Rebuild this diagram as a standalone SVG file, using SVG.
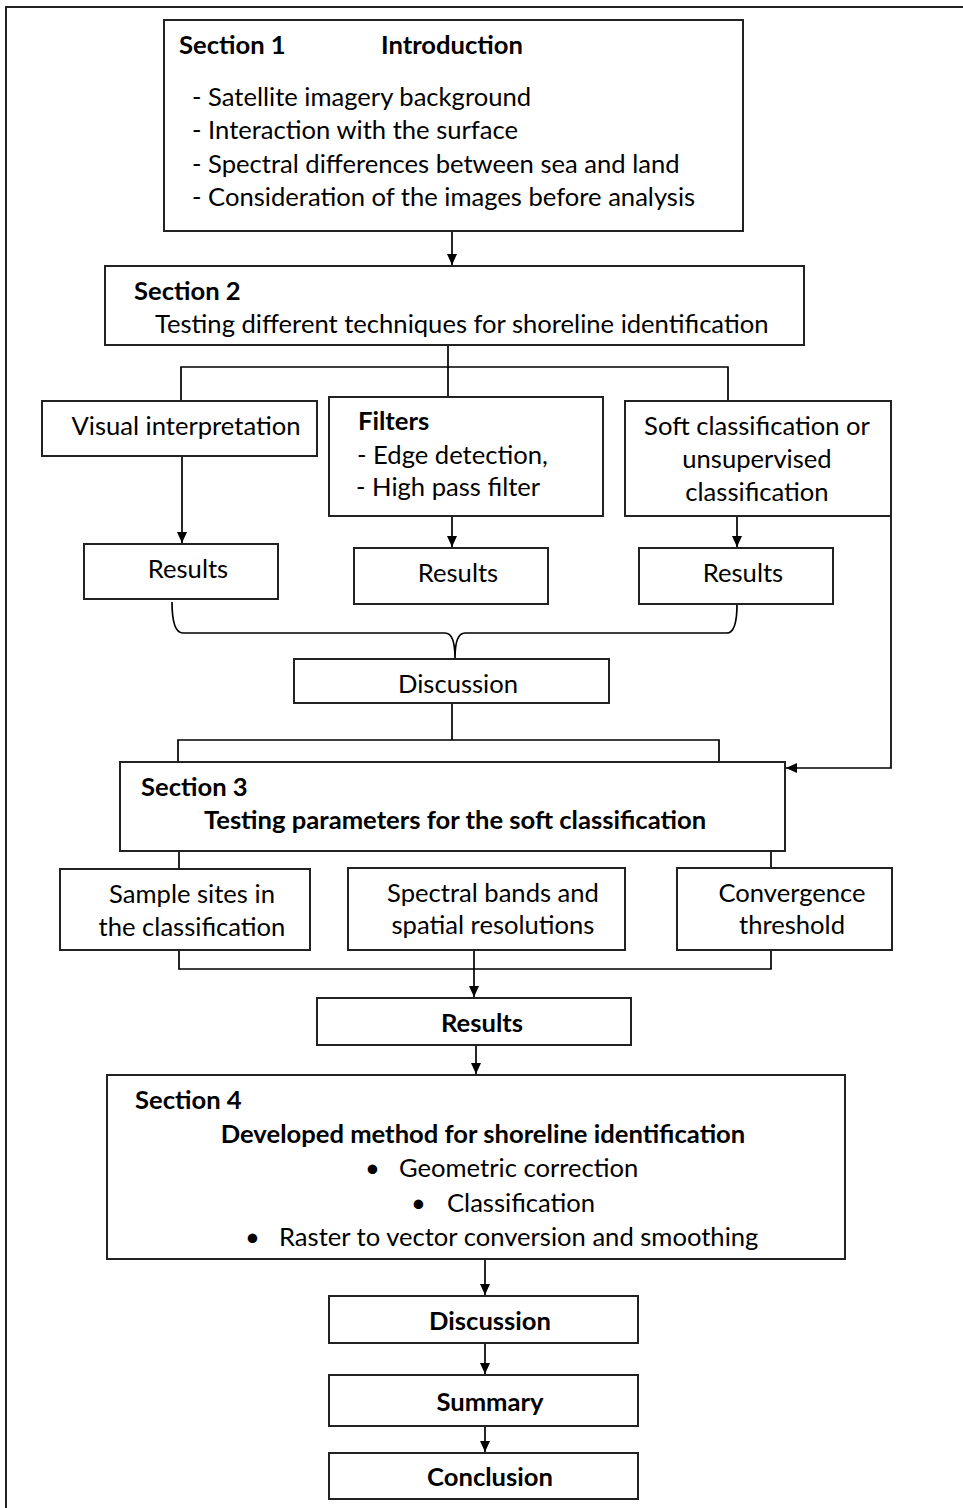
<svg xmlns="http://www.w3.org/2000/svg" width="963" height="1508" viewBox="0 0 963 1508">
<style>
.box{fill:#fff;stroke:#222;stroke-width:2}
.ln{fill:none;stroke:#000;stroke-width:1.7}
text{font-family:Lato,"Liberation Sans",sans-serif;font-size:25.6px;fill:#000}
.b{font-weight:bold}
.m{text-anchor:middle}
</style>
<defs>
<marker id="ah" viewBox="0 0 11 10" refX="11" refY="5" markerWidth="11" markerHeight="10" markerUnits="userSpaceOnUse" orient="auto">
<path d="M0,0 L11,5 L0,10 z" fill="#000"/>
</marker>
</defs>
<rect width="963" height="1508" fill="#fff"/>
<path d="M6,1508 V7 H963" fill="none" stroke="#222" stroke-width="2"/>

<g id="connectors">
<line class="ln" x1="452" y1="231" x2="452" y2="265" marker-end="url(#ah)"/>
<path class="ln" d="M448,345 V397 M181,401 V367 H728 V401"/>
<line class="ln" x1="182" y1="456" x2="182" y2="543" marker-end="url(#ah)"/>
<line class="ln" x1="452" y1="516" x2="452" y2="547" marker-end="url(#ah)"/>
<line class="ln" x1="737" y1="516" x2="737" y2="547" marker-end="url(#ah)"/>
<path class="ln" d="M172,602 Q172,633 183,633 L445,633 Q455,633 455,658 Q455,633 465,633 L727,633 Q737,633 737,604"/>
<path class="ln" d="M452,703 V740 M178,762 V740 H719 V762"/>
<path class="ln" d="M891,516 V768 H786" marker-end="url(#ah)"/>
<path class="ln" d="M179,851 V869 M771,851 V868"/>
<path class="ln" d="M179,950 V969 H771 V950"/>
<line class="ln" x1="474" y1="950" x2="474" y2="997" marker-end="url(#ah)"/>
<line class="ln" x1="476" y1="1045" x2="476" y2="1074" marker-end="url(#ah)"/>
<line class="ln" x1="485" y1="1259" x2="485" y2="1295" marker-end="url(#ah)"/>
<line class="ln" x1="485" y1="1343" x2="485" y2="1374" marker-end="url(#ah)"/>
<line class="ln" x1="485" y1="1426" x2="485" y2="1452" marker-end="url(#ah)"/>
</g>

<g id="section1">
<rect class="box" x="164" y="20" width="579" height="211"/>
<text class="b" x="179" y="54">Section 1</text>
<text class="b" x="381" y="54">Introduction</text>
<text x="192" y="106">- Satellite imagery background</text>
<text x="192" y="139">- Interaction with the surface</text>
<text x="192" y="173">- Spectral differences between sea and land</text>
<text x="192" y="206">- Consideration of the images before analysis</text>
</g>

<g id="section2">
<rect class="box" x="105" y="266" width="699" height="79"/>
<text class="b" x="134" y="300">Section 2</text>
<text x="155" y="333">Testing different techniques for shoreline identification</text>
</g>

<g id="visual">
<rect class="box" x="42" y="401" width="275" height="55"/>
<text class="m" x="186" y="435">Visual interpretation</text>
</g>

<g id="filters">
<rect class="box" x="329" y="397" width="274" height="119"/>
<text class="b" x="358" y="430">Filters</text>
<text x="357" y="464">- Edge detection,</text>
<text x="356" y="496">- High pass filter</text>
</g>

<g id="soft">
<rect class="box" x="625" y="401" width="266" height="115"/>
<text class="m" x="757" y="435">Soft classification or</text>
<text class="m" x="757" y="468">unsupervised</text>
<text class="m" x="757" y="501">classification</text>
</g>

<g id="results1">
<rect class="box" x="84" y="544" width="194" height="55"/>
<text class="m" x="188" y="578">Results</text>
</g>
<g id="results2">
<rect class="box" x="354" y="548" width="194" height="56"/>
<text class="m" x="458" y="582">Results</text>
</g>
<g id="results3">
<rect class="box" x="639" y="548" width="194" height="56"/>
<text class="m" x="743" y="582">Results</text>
</g>

<g id="discussion1">
<rect class="box" x="294" y="659" width="315" height="44"/>
<text class="m" x="458" y="693">Discussion</text>
</g>

<g id="section3">
<rect class="box" x="120" y="762" width="665" height="89"/>
<text class="b" x="141" y="796">Section 3</text>
<text class="b m" x="455" y="829">Testing parameters for the soft classification</text>
</g>

<g id="sample">
<rect class="box" x="60" y="869" width="250" height="81"/>
<text class="m" x="192" y="903">Sample sites in</text>
<text class="m" x="192" y="936">the classification</text>
</g>
<g id="spectral">
<rect class="box" x="348" y="868" width="277" height="82"/>
<text class="m" x="493" y="902">Spectral bands and</text>
<text class="m" x="493" y="934">spatial resolutions</text>
</g>
<g id="convergence">
<rect class="box" x="677" y="868" width="215" height="82"/>
<text class="m" x="792" y="902">Convergence</text>
<text class="m" x="792" y="934">threshold</text>
</g>

<g id="results4">
<rect class="box" x="317" y="998" width="314" height="47"/>
<text class="b m" x="482" y="1032">Results</text>
</g>

<g id="section4">
<rect class="box" x="107" y="1075" width="738" height="184"/>
<text class="b" x="135" y="1109">Section 4</text>
<text class="b m" x="483" y="1143">Developed method for shoreline identification</text>
<text x="365" y="1177">•</text>
<text x="399" y="1177">Geometric correction</text>
<text x="411" y="1212">•</text>
<text x="447" y="1212">Classification</text>
<text x="245" y="1246">•</text>
<text x="279" y="1246">Raster to vector conversion and smoothing</text>
</g>

<g id="discussion2">
<rect class="box" x="329" y="1296" width="309" height="47"/>
<text class="b m" x="490" y="1330">Discussion</text>
</g>
<g id="summary">
<rect class="box" x="329" y="1375" width="309" height="51"/>
<text class="b m" x="490" y="1411">Summary</text>
</g>
<g id="conclusion">
<rect class="box" x="329" y="1453" width="309" height="46"/>
<text class="b m" x="490" y="1486">Conclusion</text>
</g>
</svg>
